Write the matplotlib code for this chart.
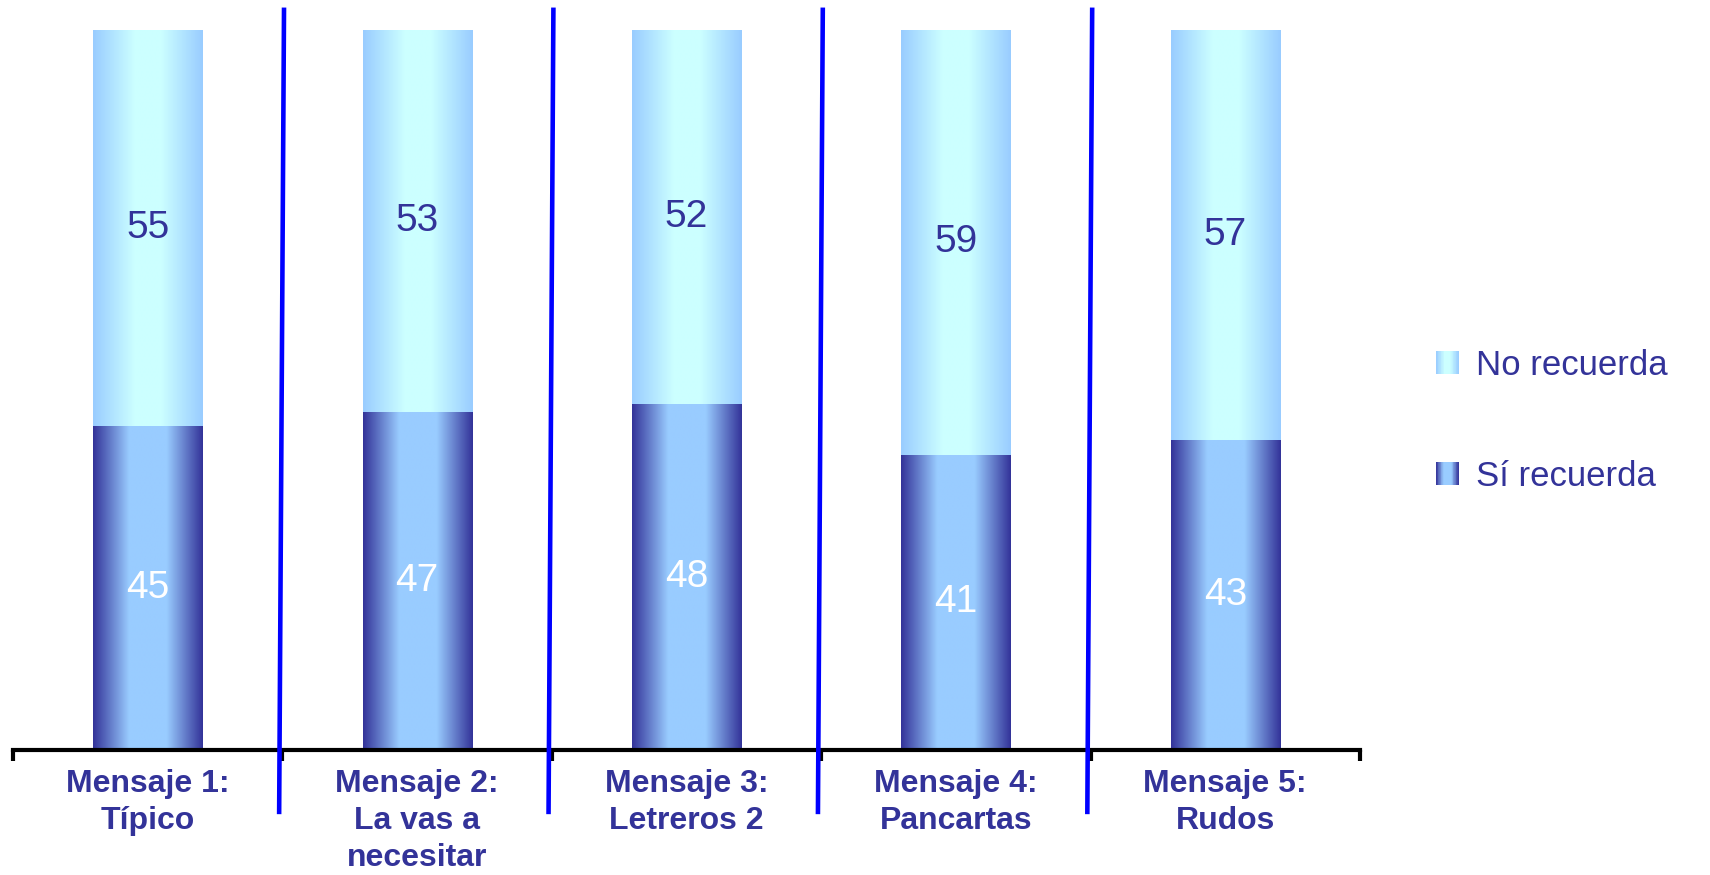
import matplotlib
matplotlib.use('Agg')
import matplotlib.pyplot as plt
import numpy as np
from matplotlib.colors import LinearSegmentedColormap
from matplotlib.patches import Rectangle
from matplotlib.legend_handler import HandlerBase

categories = ['Mensaje 1:\nTípico', 'Mensaje 2:\nLa vas a\nnecesitar', 'Mensaje 3:\nLetreros 2',
              'Mensaje 4:\nPancartas', 'Mensaje 5:\nRudos']
si_recuerda = [45, 47, 48, 41, 43]
no_recuerda = [55, 53, 52, 59, 57]
series_names = ['No recuerda', 'Sí recuerda']

navy = '#333399'
cmap_si = LinearSegmentedColormap.from_list(
    'si', [(0, '#333399'), (0.33, '#99CCFF'), (0.67, '#99CCFF'), (1, '#333399')])
cmap_no = LinearSegmentedColormap.from_list(
    'no', [(0, '#99CCFF'), (0.38, '#CCFFFF'), (0.62, '#CCFFFF'), (1, '#99CCFF')])

plt.rcParams['font.family'] = ['Liberation Sans', 'DejaVu Sans']

fig = plt.figure(figsize=(17.1, 8.75), dpi=100)
ax = fig.add_axes([0.0076, 0.1429, 0.7877, 0.8228])

x = np.arange(len(categories))
bars_si = ax.bar(x, si_recuerda, width=0.405, color='none', edgecolor='none')
bars_no = ax.bar(x, no_recuerda, width=0.405, bottom=si_recuerda, color='none', edgecolor='none')

grad = np.linspace(0, 1, 256).reshape(1, -1)


def fill_gradient(bars, cmap):
    for b in bars:
        x0, y0 = b.get_x(), b.get_y()
        ax.imshow(grad, cmap=cmap, aspect='auto', interpolation='bilinear', zorder=1.5,
                  extent=[x0, x0 + b.get_width(), y0, y0 + b.get_height()])


fill_gradient(bars_si, cmap_si)
fill_gradient(bars_no, cmap_no)

ax.bar_label(bars_si, label_type='center', color='white', fontsize=28)
ax.bar_label(bars_no, label_type='center', color=navy, fontsize=28)

ax.set_xlim(-0.5, len(categories) - 0.5)
ax.set_ylim(0, 100)

for s in ['top', 'right', 'left']:
    ax.spines[s].set_visible(False)
ax.spines['bottom'].set_linewidth(3)
ax.spines['bottom'].set_color('black')
ax.set_yticks([])
ax.set_xticks(x)
ax.set_xticklabels(categories, fontsize=23, fontweight='bold', color=navy, linespacing=1.3)
ax.set_xticks(np.arange(len(categories) + 1) - 0.5, minor=True)
ax.tick_params(axis='x', which='major', length=0, pad=14)
ax.tick_params(axis='x', which='minor', length=8, width=3, color='black', direction='out')

# slanted blue separators between groups
for b in x[:-1] + 0.5:
    ax.plot([b - 0.012, b + 0.006], [-8.6, 102.8], color='#0000FF', lw=3.3, clip_on=False, zorder=3)


class GradientHandler(HandlerBase):
    def __init__(self, cmap):
        super().__init__()
        self.cmap = cmap

    def create_artists(self, legend, orig_handle, xdescent, ydescent, width, height, fontsize, trans):
        n = 30
        arts = []
        for i in range(n):
            r = Rectangle((-xdescent + width * i / n, -ydescent), width / n * 1.05, height,
                          facecolor=self.cmap((i + 0.5) / n), edgecolor='none', transform=trans)
            arts.append(r)
        return arts


h_no = Rectangle((0, 0), 1, 1)
h_si = Rectangle((0, 0), 1, 1)
fig.legend([h_no, h_si], series_names, loc='center left', bbox_to_anchor=(0.8398, 0.519),
           frameon=False, fontsize=25, labelcolor=navy, handlelength=0.65, handleheight=0.65,
           handletextpad=0.5, labelspacing=2.25, borderpad=0, borderaxespad=0,
           handler_map={h_no: GradientHandler(cmap_no), h_si: GradientHandler(cmap_si)})

fig.savefig('out.png', dpi=100)
